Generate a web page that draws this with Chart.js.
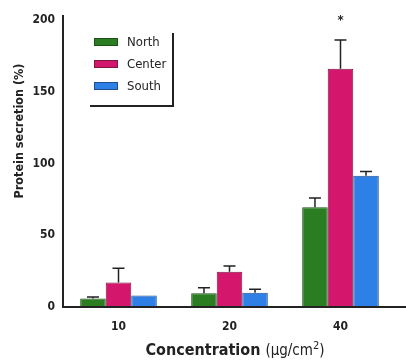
<!DOCTYPE html>
<html>
<head>
<meta charset="utf-8">
<script src="https://cdn.jsdelivr.net/npm/chart.js@4/dist/chart.umd.min.js"></script>
<style>
  html, body { margin: 0; padding: 0; background: #fff; }
  #wrap { width: 406px; height: 362px; position: relative; }
</style>
</head>
<body>
<div id="wrap"><canvas id="c" width="406" height="362"></canvas></div>
<script>
// Concentrations (µg/cm²) and protein secretion (%) per region
const concentrations = ['10', '20', '40'];
const northValues = [6, 9.5, 69.5];
const northErrors = [1, 4, 6.5];
const centerValues = [17, 24.5, 166];
const centerErrors = [10, 4, 20];
const southValues = [8, 10, 91.5];
const southErrors = [0, 2.3, 3];
const centerMarks = ['', '', '*'];
const yTicks = [0, 50, 100, 150, 200];

const FONT = "'Liberation Sans Narrow', 'DejaVu Sans Condensed', 'Roboto Condensed', sans-serif";
const INK = '#222';

const errorsByDataset = [northErrors, centerErrors, southErrors];
const marksByDataset = [null, centerMarks, null];

// Upper error whiskers, significance marks, x baseline, legend box and axis titles
const decorations = {
  id: 'decorations',
  afterDatasetsDraw(chart) {
    const ctx = chart.ctx;
    const y = chart.scales.y;
    const area = chart.chartArea;
    ctx.save();
    ctx.strokeStyle = INK;
    ctx.lineWidth = 1.5;
    chart.data.datasets.forEach((ds, di) => {
      const meta = chart.getDatasetMeta(di);
      meta.data.forEach((bar, i) => {
        const err = errorsByDataset[di][i];
        const top = y.getPixelForValue(ds.data[i] + err);
        if (err > 0) {
          ctx.beginPath();
          ctx.moveTo(bar.x, bar.y);
          ctx.lineTo(bar.x, top);
          ctx.moveTo(bar.x - 6, top);
          ctx.lineTo(bar.x + 6, top);
          ctx.stroke();
        }
        const marks = marksByDataset[di];
        if (marks && marks[i]) {
          ctx.fillStyle = INK;
          ctx.font = 'bold 13px ' + FONT;
          ctx.textAlign = 'center';
          ctx.textBaseline = 'middle';
          ctx.fillText(marks[i], bar.x, top - 19);
        }
      });
    });

    // x baseline running to the right edge
    ctx.lineWidth = 2;
    ctx.beginPath();
    ctx.moveTo(area.left - 1, area.bottom);
    ctx.lineTo(chart.width, area.bottom);
    ctx.stroke();
    // y axis line, slightly above the top tick
    ctx.beginPath();
    ctx.moveTo(area.left, area.bottom);
    ctx.lineTo(area.left, area.top - 5);
    ctx.stroke();

    // legend with a drop-shadow frame on right and bottom
    const lx = 90, ly = 33, lw = 83, lh = 73;
    ctx.lineWidth = 2;
    ctx.beginPath();
    ctx.moveTo(lx + lw, ly);
    ctx.lineTo(lx + lw, ly + lh);
    ctx.lineTo(lx, ly + lh);
    ctx.stroke();
    const rows = [42, 64, 86];
    chart.data.datasets.forEach((ds, di) => {
      const cy = rows[di];
      ctx.fillStyle = ds.backgroundColor;
      ctx.fillRect(94, cy - 4, 24, 8);
      ctx.lineWidth = 1;
      ctx.strokeStyle = ds.borderColor;
      ctx.strokeRect(94.5, cy - 3.5, 23, 7);
      ctx.fillStyle = INK;
      ctx.font = '13px ' + FONT;
      ctx.textAlign = 'left';
      ctx.textBaseline = 'middle';
      ctx.fillText(ds.label, 127, cy + 1);
    });

    // y axis title
    ctx.save();
    ctx.translate(20, 131);
    ctx.rotate(-Math.PI / 2);
    ctx.fillStyle = INK;
    ctx.font = 'bold 12.5px ' + FONT;
    ctx.textAlign = 'center';
    ctx.textBaseline = 'middle';
    ctx.fillText('Protein secretion (%)', 0, 0);
    ctx.restore();

    // x axis title: bold word, regular unit with superscript
    const parts = [
      { t: 'Concentration ', f: 'bold 16px ' + FONT, dy: 0 },
      { t: '(\u03bcg/cm', f: '15px ' + FONT, dy: 0 },
      { t: '2', f: '11px ' + FONT, dy: -5 },
      { t: ')', f: '15px ' + FONT, dy: 0 }
    ];
    let total = 0;
    parts.forEach(p => { ctx.font = p.f; p.w = ctx.measureText(p.t).width; total += p.w; });
    let x = 235 - total / 2;
    ctx.fillStyle = INK;
    ctx.textAlign = 'left';
    ctx.textBaseline = 'middle';
    parts.forEach(p => { ctx.font = p.f; ctx.fillText(p.t, x, 351 + p.dy); x += p.w; });
    ctx.restore();
  }
};

new Chart(document.getElementById('c'), {
  type: 'bar',
  data: {
    labels: concentrations,
    datasets: [
      { label: 'North', data: northValues, backgroundColor: '#2b7d22', borderColor: '#1d4f17', borderWidth: 1 },
      { label: 'Center', data: centerValues, backgroundColor: '#d4176d', borderColor: '#7a1843', borderWidth: 1 },
      { label: 'South', data: southValues, backgroundColor: '#2f80e6', borderColor: '#1f4f8f', borderWidth: 1 }
    ]
  },
  options: {
    responsive: false,
    animation: false,
    layout: { padding: { left: 0, top: 20, right: 10, bottom: 0 } },
    datasets: { bar: { categoryPercentage: 0.69, barPercentage: 1 } },
    plugins: { legend: { display: false }, tooltip: { enabled: false } },
    scales: {
      x: {
        grid: { display: false, drawTicks: false },
        border: { display: false },
        ticks: { color: INK, font: { family: FONT, size: 12, weight: 'bold' }, padding: 13 },
        afterFit(s) { s.height = 55; }
      },
      y: {
        min: 0, max: 200,
        afterBuildTicks(s) { s.ticks = yTicks.map(v => ({ value: v })); },
        grid: { display: false, drawTicks: false },
        border: { display: false },
        ticks: { color: INK, font: { family: FONT, size: 12, weight: 'bold' }, padding: 8 },
        afterFit(s) { s.width = 63; }
      }
    }
  },
  plugins: [decorations]
});
</script>
</body>
</html>
